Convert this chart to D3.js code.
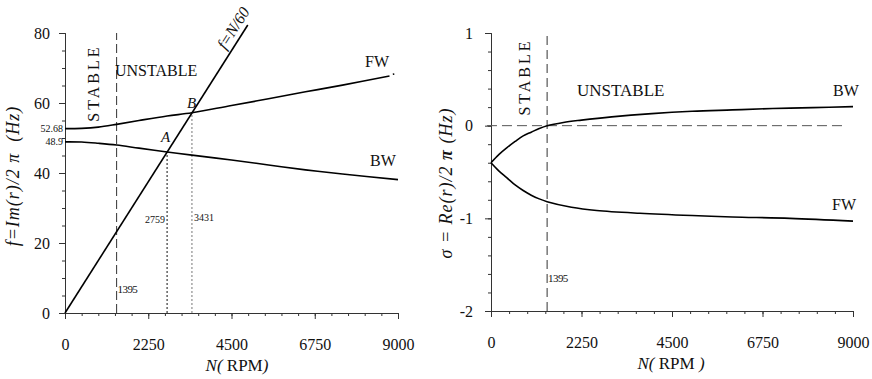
<!DOCTYPE html>
<html>
<head>
<meta charset="utf-8">
<script src="https://cdn.jsdelivr.net/npm/d3@7"></script>
<style>
    body { margin: 0; background: #fff; }
    svg text { font-family: "Liberation Serif", "Times New Roman", serif; fill: #111; }
</style>
</head>
<body>
<div class="visualGraph"></div>
<script>
// shared speed axis
const rpmTicks = [0, 2250, 4500, 6750, 9000];
const rpmStep = 450;
const instabilityRpm = 1395;

// left panel: whirl frequency Im(r)/2pi (Hz)
const freqTicks = [0, 20, 40, 60, 80];
const freqMarks = [52.68, 48.9];
const freqFW = [[0, 52.68], [450, 52.75], [900, 53.1], [1395, 53.9], [2000, 55.0], [2759, 56.3],
    [3431, 57.2], [4500, 59.3], [5500, 61.2], [6500, 63.2], [7500, 65.1], [8770, 67.7]];
const freqFWTail = [[8860, 68.2], [8900, 68.3]];
const freqBW = [[0, 48.9], [450, 48.85], [900, 48.5], [1395, 48.0], [2000, 47.1], [2759, 46.0],
    [3431, 45.1], [4500, 43.7], [5500, 42.3], [6500, 40.9], [7500, 39.7], [9000, 38.1]];
const speedLine = [[0, 0], [4940, 82.3]]; // f = N/60
const crossNames = ["A", "B"];
const crossRpm = [2759, 3431];

// right panel: growth rate Re(r)/2pi (Hz)
const sigmaTicks = [-2, -1, 0, 1];
const sigmaBW = [[0, -0.40], [200, -0.31], [390, -0.24], [600, -0.17], [800, -0.11], [1000, -0.07],
    [1200, -0.03], [1395, 0.0], [1800, 0.035], [2250, 0.06], [3000, 0.095], [4000, 0.13],
    [5000, 0.155], [6000, 0.17], [7000, 0.185], [8000, 0.195], [9000, 0.205]];
const sigmaFW = [[0, -0.40], [200, -0.49], [390, -0.56], [600, -0.64], [800, -0.70], [1000, -0.75],
    [1200, -0.79], [1395, -0.82], [2000, -0.88], [2627, -0.915], [3700, -0.945], [5000, -0.97],
    [6000, -0.985], [7433, -1.0], [9000, -1.03]];
const zeroRef = [[-100, 0], [8750, 0]];

class Panel {
    constructor(svg, xRange, yDomain, yRange) {
        this.x = d3.scaleLinear().domain([0, 9000]).range(xRange);
        this.y = d3.scaleLinear().domain(yDomain).range(yRange);
        this.g = svg.append("g");
        this.line = d3.line()
            .x(d => this.x(d[0]))
            .y(d => this.y(d[1]))
            .curve(d3.curveCatmullRom.alpha(0.5));
    }

    // axes(): unlabelled minor ticks, then the labelled major ones
    axes(yTicks, yStep, yPad) {
        const [ylo, yhi] = this.y.domain();
        const xMinor = d3.range(0, 9000 + 1, rpmStep);
        const yMinor = d3.range(ylo, yhi + yStep / 2, yStep);

        const bottom = this.g.append("g")
            .attr("transform", `translate(0,${this.y(ylo)})`);
        bottom.append("g")
            .call(d3.axisBottom(this.x).tickValues(xMinor).tickSize(3).tickFormat(""));
        bottom.append("g")
            .call(d3.axisBottom(this.x).tickValues(rpmTicks).tickSize(6).tickPadding(20)
                .tickFormat(d => String(d)));

        const left = this.g.append("g")
            .attr("transform", `translate(${this.x(0)},0)`);
        left.append("g")
            .call(d3.axisLeft(this.y).tickValues(yMinor).tickSize(3).tickFormat(""));
        left.append("g")
            .call(d3.axisLeft(this.y).tickValues(yTicks).tickSize(6).tickPadding(yPad)
                .tickFormat(d => String(d)));

        this.g.selectAll(".domain, .tick line")
            .attr("stroke", "#333")
            .attr("stroke-width", 1);
        this.g.selectAll(".tick text")
            .attr("font-size", 16)
            .attr("font-family", "Liberation Serif, serif")
            .attr("fill", "#111");
    }

    curve(data, width) {
        this.g.append("path")
            .datum(data)
            .attr("fill", "none")
            .attr("stroke", "#000")
            .attr("stroke-width", width || 1.6)
            .attr("d", this.line);
    }

    vline(rpm, v0, v1, dash, color) {
        this.g.append("line")
            .attr("x1", this.x(rpm)).attr("x2", this.x(rpm))
            .attr("y1", this.y(v0)).attr("y2", this.y(v1))
            .attr("stroke", color)
            .attr("stroke-width", 1)
            .attr("stroke-dasharray", dash);
    }

    label(rpm, v, str, size, opts = {}) {
        const t = this.g.append("text")
            .attr("x", this.x(rpm) + (opts.dx || 0))
            .attr("y", this.y(v))
            .attr("font-size", size)
            .attr("text-anchor", opts.anchor || "start")
            .text(str);
        if (opts.italic) t.attr("font-style", "italic");
        if (opts.sans) t.attr("font-family", "Liberation Sans, Arial, sans-serif");
        if (opts.dy) t.attr("dy", opts.dy);
        return t;
    }

    // vertical, letter spaced region name
    vertical(rpm, v, str, size) {
        this.g.append("text")
            .attr("transform", `translate(${this.x(rpm)},${this.y(v)}) rotate(-90)`)
            .attr("text-anchor", "middle")
            .attr("font-size", size)
            .attr("letter-spacing", 3)
            .text(str);
    }
}

function axisTitle(g, x, y, rotate, parts, size) {
    const t = g.append("text")
        .attr("transform", `translate(${x},${y})` + (rotate ? " rotate(-90)" : ""))
        .attr("text-anchor", "middle")
        .attr("font-size", size)
        .style("white-space", "pre");
    parts.forEach(p => {
        t.append("tspan")
            .attr("font-style", p[1] ? "italic" : "normal")
            .attr("font-weight", p[2] ? "bold" : "normal")
            .text(p[0]);
    });
    return t;
}

const svg = d3.select(".visualGraph")
    .append("svg")
    .attr("width", 872)
    .attr("height", 379)
    .attr("viewBox", [0, 0, 872, 379]);

svg.append("rect")
    .attr("width", 872)
    .attr("height", 379)
    .attr("fill", "#fff");

// ---- left panel ----
const fp = new Panel(svg, [65, 398], [0, 80], [313, 33]);
fp.axes(freqTicks, 5, 9);
fp.vline(instabilityRpm, 0, 80, "9,4", "#333");
fp.vline(crossRpm[0], 0, crossRpm[0] / 60, "2,2", "#111");
fp.vline(crossRpm[1], 0, crossRpm[1] / 60, "2,2", "#777");
fp.curve(freqFW);
fp.curve(freqFWTail, 1.4);
fp.curve(freqBW);
fp.g.append("path")
    .datum(speedLine)
    .attr("fill", "none")
    .attr("stroke", "#000")
    .attr("stroke-width", 1.6)
    .attr("d", d3.line().x(d => fp.x(d[0])).y(d => fp.y(d[1])));

freqMarks.forEach(v => {
    fp.label(0, v, String(v), 10, { anchor: "end", dx: -2, dy: "0.35em" });
});
fp.vertical(919, 65.7, "STABLE", 16);
fp.label(1351, 67.7, "UNSTABLE", 16);
fp.label(8108, 70.3, "FW", 16);
fp.label(8243, 42.0, "BW", 16);
fp.label(2595, 48.9, crossNames[0], 15, { italic: true });
fp.label(3297, 58.6, crossNames[1], 15, { italic: true });
fp.label(instabilityRpm, 5.7, String(instabilityRpm), 11, { dx: 1, sans: true })
    .attr("letter-spacing", -0.6);
fp.label(crossRpm[0], 25.7, String(crossRpm[0]), 10, { anchor: "end", dx: -2 });
fp.label(crossRpm[1], 26.3, String(crossRpm[1]), 10, { dx: 2 });

// f = N/60 written along its line
const angle = Math.atan2(fp.y(speedLine[1][1]) - fp.y(0), fp.x(speedLine[1][0]) - fp.x(0)) * 180 / Math.PI;
fp.g.append("text")
    .attr("transform", `translate(${fp.x(4450)},${fp.y(74.2)}) rotate(${angle})`)
    .attr("y", -5)
    .attr("font-size", 16)
    .attr("font-style", "italic")
    .text("f=N/60");

axisTitle(fp.g, 19, 176, true,
    [["f=Im(r)/2", true], [" \u03c0  ", true], ["(Hz)", true]], 18)
    .attr("letter-spacing", 1);
axisTitle(fp.g, 237, 371, false,
    [["N(", true], [" RPM", false], [")", true]], 17);

// ---- right panel ----
const sp = new Panel(svg, [491, 853], [-2, 1], [311, 33]);
sp.axes(sigmaTicks, 0.2, 12);
sp.g.append("path")
    .datum(zeroRef)
    .attr("fill", "none")
    .attr("stroke", "#555")
    .attr("stroke-width", 1)
    .attr("stroke-dasharray", "10,5")
    .attr("d", d3.line().x(d => sp.x(d[0])).y(d => sp.y(d[1])));
sp.vline(instabilityRpm, -2, 1, "9,5", "#333");
sp.curve(sigmaBW);
sp.curve(sigmaFW);

sp.vertical(970, 0.525, "STABLE", 16);
sp.label(2138, 0.32, "UNSTABLE", 17);
sp.label(8503, 0.32, "BW", 16);
sp.label(8478, -0.91, "FW", 16);
sp.label(instabilityRpm, -1.69, String(instabilityRpm), 11, { dx: 1, sans: true })
    .attr("letter-spacing", -0.6);

axisTitle(sp.g, 452, 183, true,
    [["\u03c3 = ", true], ["Re(r)/2 ", true], ["\u03c0", true, true], [" (Hz)", true]], 18)
    .attr("letter-spacing", 1);
axisTitle(sp.g, 671, 369, false,
    [["N(", true], [" RPM ", false], [")", true]], 17);
</script>
</body>
</html>
